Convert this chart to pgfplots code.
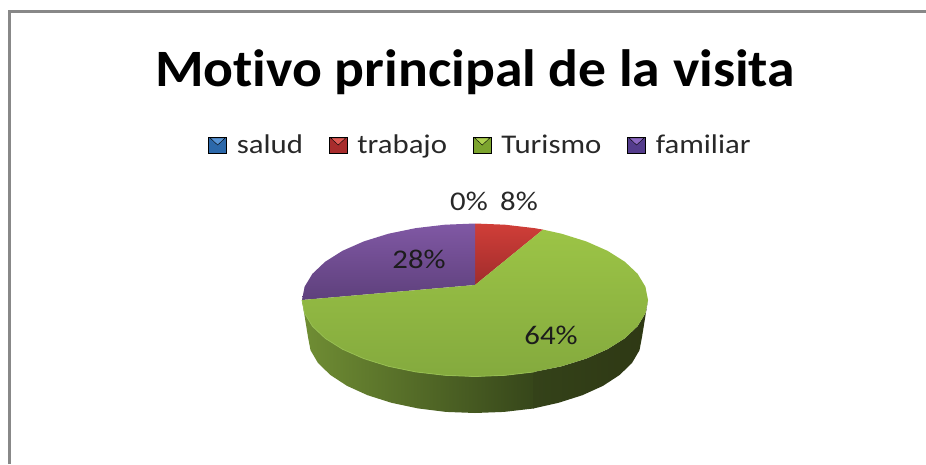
\documentclass[border=0pt]{standalone}
\usepackage{fontspec}
\setmainfont{Carlito}
\newfontfamily\keyfont[FakeStretch=1.14,Ligatures=NoCommon]{Carlito}
\newfontfamily\titlefont[FakeStretch=1.06,Ligatures=NoCommon]{Carlito}
\usepackage{pgfplots}
\pgfplotsset{compat=1.18}

\definecolor{titleblack}{RGB}{0,0,0}
\definecolor{labelgrey}{RGB}{40,40,40}
\definecolor{framegrey}{RGB}{136,136,136}
\definecolor{redtop}{RGB}{208,62,56}
\definecolor{redbot}{RGB}{160,44,44}
\definecolor{greentop}{RGB}{156,196,70}
\definecolor{greenbot}{RGB}{132,170,62}
\definecolor{greenedge}{RGB}{150,190,80}
\definecolor{purpletop}{RGB}{128,88,164}
\definecolor{purplebot}{RGB}{94,64,124}
\definecolor{sideA}{RGB}{112,142,52}
\definecolor{sideB}{RGB}{54,70,26}
\definecolor{sideC}{RGB}{52,66,25}
\definecolor{sideD}{RGB}{46,56,20}

% legend key: dark square with a light wedge on top
\newcommand{\legkey}[2]{%
  \addlegendimage{legend image code/.code={%
    \fill[fill={#1}] (0pt,-8pt) rectangle (18pt,8pt);
    \fill[fill={#2}] (1.5pt,7pt) -- (16.5pt,7pt) -- (9pt,0pt) -- cycle;
  }}%
}

\begin{document}
\begin{tikzpicture}
\path[use as bounding box] (0,0) rectangle (926pt,464pt);
\begin{axis}[
  at={(0,0)}, anchor=south west,
  scale only axis, width=926pt, height=464pt,
  xmin=0, xmax=926, ymin=0, ymax=464,
  y dir=reverse,
  hide axis,
  legend columns=4,
  legend cell align=left,
  legend style={
    draw=none, fill=none, at={(axis cs:480.5,145)}, anchor=center,
    font=\fontsize{27}{30}\selectfont\keyfont, text=labelgrey,
    inner sep=0pt, outer sep=0pt,
    /tikz/every odd column/.append style={column sep=8pt},
    /tikz/every even column/.append style={column sep=24pt},
  },
]
% side of the disc
\addplot[forget plot, draw=none, shade, left color=sideA, right color=sideB] coordinates {
  (302,300) (304.6,313.3) (312.4,326.2) (325.2,338.3) (342.5,349.2) (363.8,358.6)
  (388.5,366.3) (415.8,371.9) (445,375.3) (475,376.5) (505,375.3) (534.2,371.9)
  (534.2,408.4) (504.1,411.9) (475,413) (445.9,411.9) (417.9,408.4) (391.5,402.8)
  (367.6,395.2) (347.1,385.9) (330.4,375) (318,363) (310.5,350.2) (308,337)
};
\addplot[forget plot, draw=none, shade, left color=sideC, right color=sideD] coordinates {
  (533.2,372) (561.5,366.3) (586.2,358.6) (607.5,349.2) (624.8,338.3) (637.6,326.2)
  (645.4,313.3) (648,300) (642,337) (639.5,350.2) (632,363) (619.6,375) (602.9,385.9)
  (582.4,395.2) (558.5,402.8) (533.2,408.5)
};
% trabajo 8%
\addplot[forget plot, draw=none, shade, top color=redtop, bottom color=redbot] coordinates {
  (475,285) (475,223.5) (505,224.7) (534.2,228.1) (543,229.6)
};
% familiar 28%
\addplot[forget plot, draw=none, shade, top color=purpletop, bottom color=purplebot] coordinates {
  (475,285) (302,300) (304.6,286.7) (312.4,273.8) (325.2,261.7) (342.5,250.8)
  (363.8,241.4) (388.5,233.7) (415.8,228.1) (445,224.7) (475,223.5)
};
% Turismo 64%
\addplot[forget plot, draw=none, shade, top color=greentop, bottom color=greenbot] coordinates {
  (475,285) (543,229.6) (561.5,233.7) (586.2,241.4) (607.5,250.8) (624.8,261.7)
  (637.6,273.8) (645.4,286.7) (648,300) (645.4,313.3) (637.6,326.2) (624.8,338.3)
  (607.5,349.2) (586.2,358.6) (561.5,366.3) (534.2,371.9) (505,375.3) (475,376.5)
  (445,375.3) (415.8,371.9) (388.5,366.3) (363.8,358.6) (342.5,349.2) (325.2,338.3)
  (312.4,326.2) (304.6,313.3) (302,300)
};
\addplot[forget plot, greenedge, line width=0.8pt] coordinates {
  (302,300) (304.6,313.3) (312.4,326.2) (325.2,338.3) (342.5,349.2) (363.8,358.6)
  (388.5,366.3) (415.8,371.9) (445,375.3) (475,376.5) (505,375.3) (534.2,371.9)
};
% chart frame, runs off right and bottom
\addplot[forget plot, framegrey, line width=3pt] coordinates {(9.5,464) (9.5,11.5) (926,11.5)};

\legkey{rgb,255:red,44;green,104;blue,170}{rgb,255:red,88;green,148;blue,214}
\addlegendentry{salud}
\legkey{rgb,255:red,168;green,44;blue,44}{rgb,255:red,224;green,90;blue,84}
\addlegendentry{trabajo}
\legkey{rgb,255:red,124;green,164;blue,46}{rgb,255:red,174;green,210;blue,80}
\addlegendentry{Turismo}
\legkey{rgb,255:red,84;green,60;blue,140}{rgb,255:red,140;green,104;blue,194}
\addlegendentry{familiar}

\node[font=\fontsize{52.5}{56}\selectfont\bfseries\titlefont, text=titleblack] at (axis cs:475,72) {Motivo principal de la visita};
\node[font=\fontsize{27}{30}\selectfont\keyfont, text=labelgrey] at (axis cs:469,201) {0\%};
\node[font=\fontsize{27}{30}\selectfont\keyfont, text=labelgrey] at (axis cs:519,201) {8\%};
\node[font=\fontsize{27}{30}\selectfont\keyfont, text=labelgrey!70!black] at (axis cs:419,259) {28\%};
\node[font=\fontsize{27}{30}\selectfont\keyfont, text=labelgrey!70!black] at (axis cs:551,335) {64\%};
\end{axis}
\end{tikzpicture}
\end{document}
